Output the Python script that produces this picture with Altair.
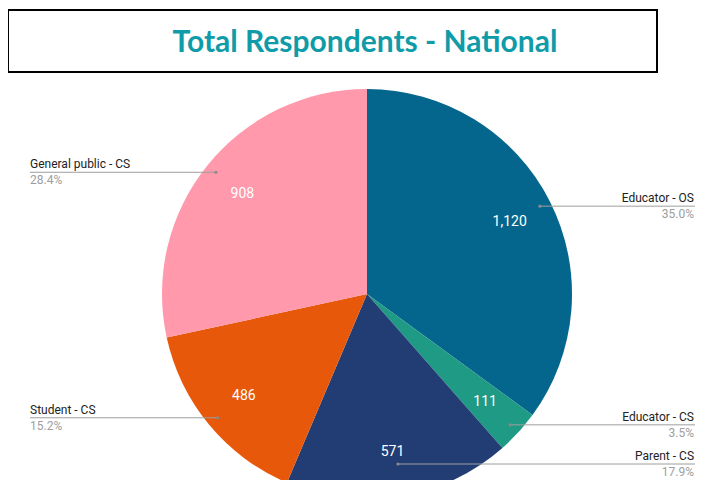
import altair as alt
import pandas as pd

title_text = "Total Respondents - National"
categories = ["Educator - OS", "Educator - CS", "Parent - CS", "Student - CS", "General public - CS"]
values = [1120, 111, 571, 486, 908]
value_labels = ["1,120", "111", "571", "486", "908"]
percents = ["35.0%", "3.5%", "17.9%", "15.2%", "28.4%"]
colors = ["#05668D", "#1F9A85", "#213D74", "#E8580B", "#FF99AB"]

df = pd.DataFrame({
    "category": categories,
    "value": values,
    "vlabel": value_labels,
    "pct": percents,
    "order": list(range(len(categories))),
})

W, H = 687, 472
CX, CY, R = 359, 286, 205
DOT_R = 194
LEFT_X, RIGHT_X = 22, 686
MAX_DOT_Y = H - 16

base = alt.Chart(df)

pie = base.mark_arc(outerRadius=R).encode(
    theta=alt.Theta("value:Q", stack=True),
    color=alt.Color("category:N", scale=alt.Scale(domain=categories, range=colors), legend=None),
    order=alt.Order("order:Q"),
    x=alt.value(CX), y=alt.value(CY),
)

vals = base.mark_text(radius=160, font="Roboto", fontSize=14, color="white").encode(
    theta=alt.Theta("value:Q", stack=True),
    order=alt.Order("order:Q"),
    text="vlabel:N",
    x=alt.value(CX), y=alt.value(CY),
)

geo = base.transform_window(
    cum="sum(value)", sort=[alt.SortField("order")], frame=[None, 0]
).transform_joinaggregate(total="sum(value)").transform_calculate(
    mid="(datum.cum - datum.value/2)/datum.total*2*PI"
).transform_calculate(
    dx=f"{CX} + {DOT_R}*sin(datum.mid)",
    dy=f"min({MAX_DOT_Y}, {CY} - {DOT_R}*cos(datum.mid))",
    right="sin(datum.mid) > 0",
).transform_calculate(
    lx=f"datum.right ? {W} : {LEFT_X}",
    tx=f"datum.right ? {RIGHT_X} : {LEFT_X}",
    ny="datum.dy - 4",
    py="datum.dy + 12",
)

lines = geo.mark_rule(color="#9e9e9e", strokeWidth=1).encode(
    x=alt.X("dx:Q", scale=None), x2="lx:Q", y=alt.Y("dy:Q", scale=None)
)
dots = geo.mark_circle(color="#8a8a8a", size=10, opacity=1).encode(
    x=alt.X("dx:Q", scale=None), y=alt.Y("dy:Q", scale=None)
)
names_l = geo.transform_filter("!datum.right").mark_text(
    font="Roboto", fontSize=12, color="#222222", align="left", baseline="alphabetic"
).encode(x=alt.X("tx:Q", scale=None), y=alt.Y("ny:Q", scale=None), text="category:N")
names_r = geo.transform_filter("datum.right").mark_text(
    font="Roboto", fontSize=12, color="#222222", align="right", baseline="alphabetic"
).encode(x=alt.X("tx:Q", scale=None), y=alt.Y("ny:Q", scale=None), text="category:N")
pct_l = geo.transform_filter("!datum.right").mark_text(
    font="Roboto", fontSize=12, color="#9e9e9e", align="left", baseline="alphabetic"
).encode(x=alt.X("tx:Q", scale=None), y=alt.Y("py:Q", scale=None), text="pct:N")
pct_r = geo.transform_filter("datum.right").mark_text(
    font="Roboto", fontSize=12, color="#9e9e9e", align="right", baseline="alphabetic"
).encode(x=alt.X("tx:Q", scale=None), y=alt.Y("py:Q", scale=None), text="pct:N")

tdf = pd.DataFrame({"t": [title_text]})
box = alt.Chart(tdf).mark_rect(fill="white", stroke="black", strokeWidth=2).encode(
    x=alt.value(0), x2=alt.value(649), y=alt.value(2), y2=alt.value(64)
)
title = alt.Chart(tdf).mark_text(
    font="Lato", fontWeight="bold", fontSize=30, color="#0F9BA8", align="center", baseline="alphabetic"
).encode(x=alt.value(357), y=alt.value(44), text="t:N")

chart = alt.layer(pie, vals, lines, dots, names_l, names_r, pct_l, pct_r, box, title).properties(
    width=W, height=H, autosize=alt.AutoSizeParams(type="none"), padding=0
).configure_view(stroke=None)

chart.save("out.html", embed_options={"renderer": "svg", "actions": False})
